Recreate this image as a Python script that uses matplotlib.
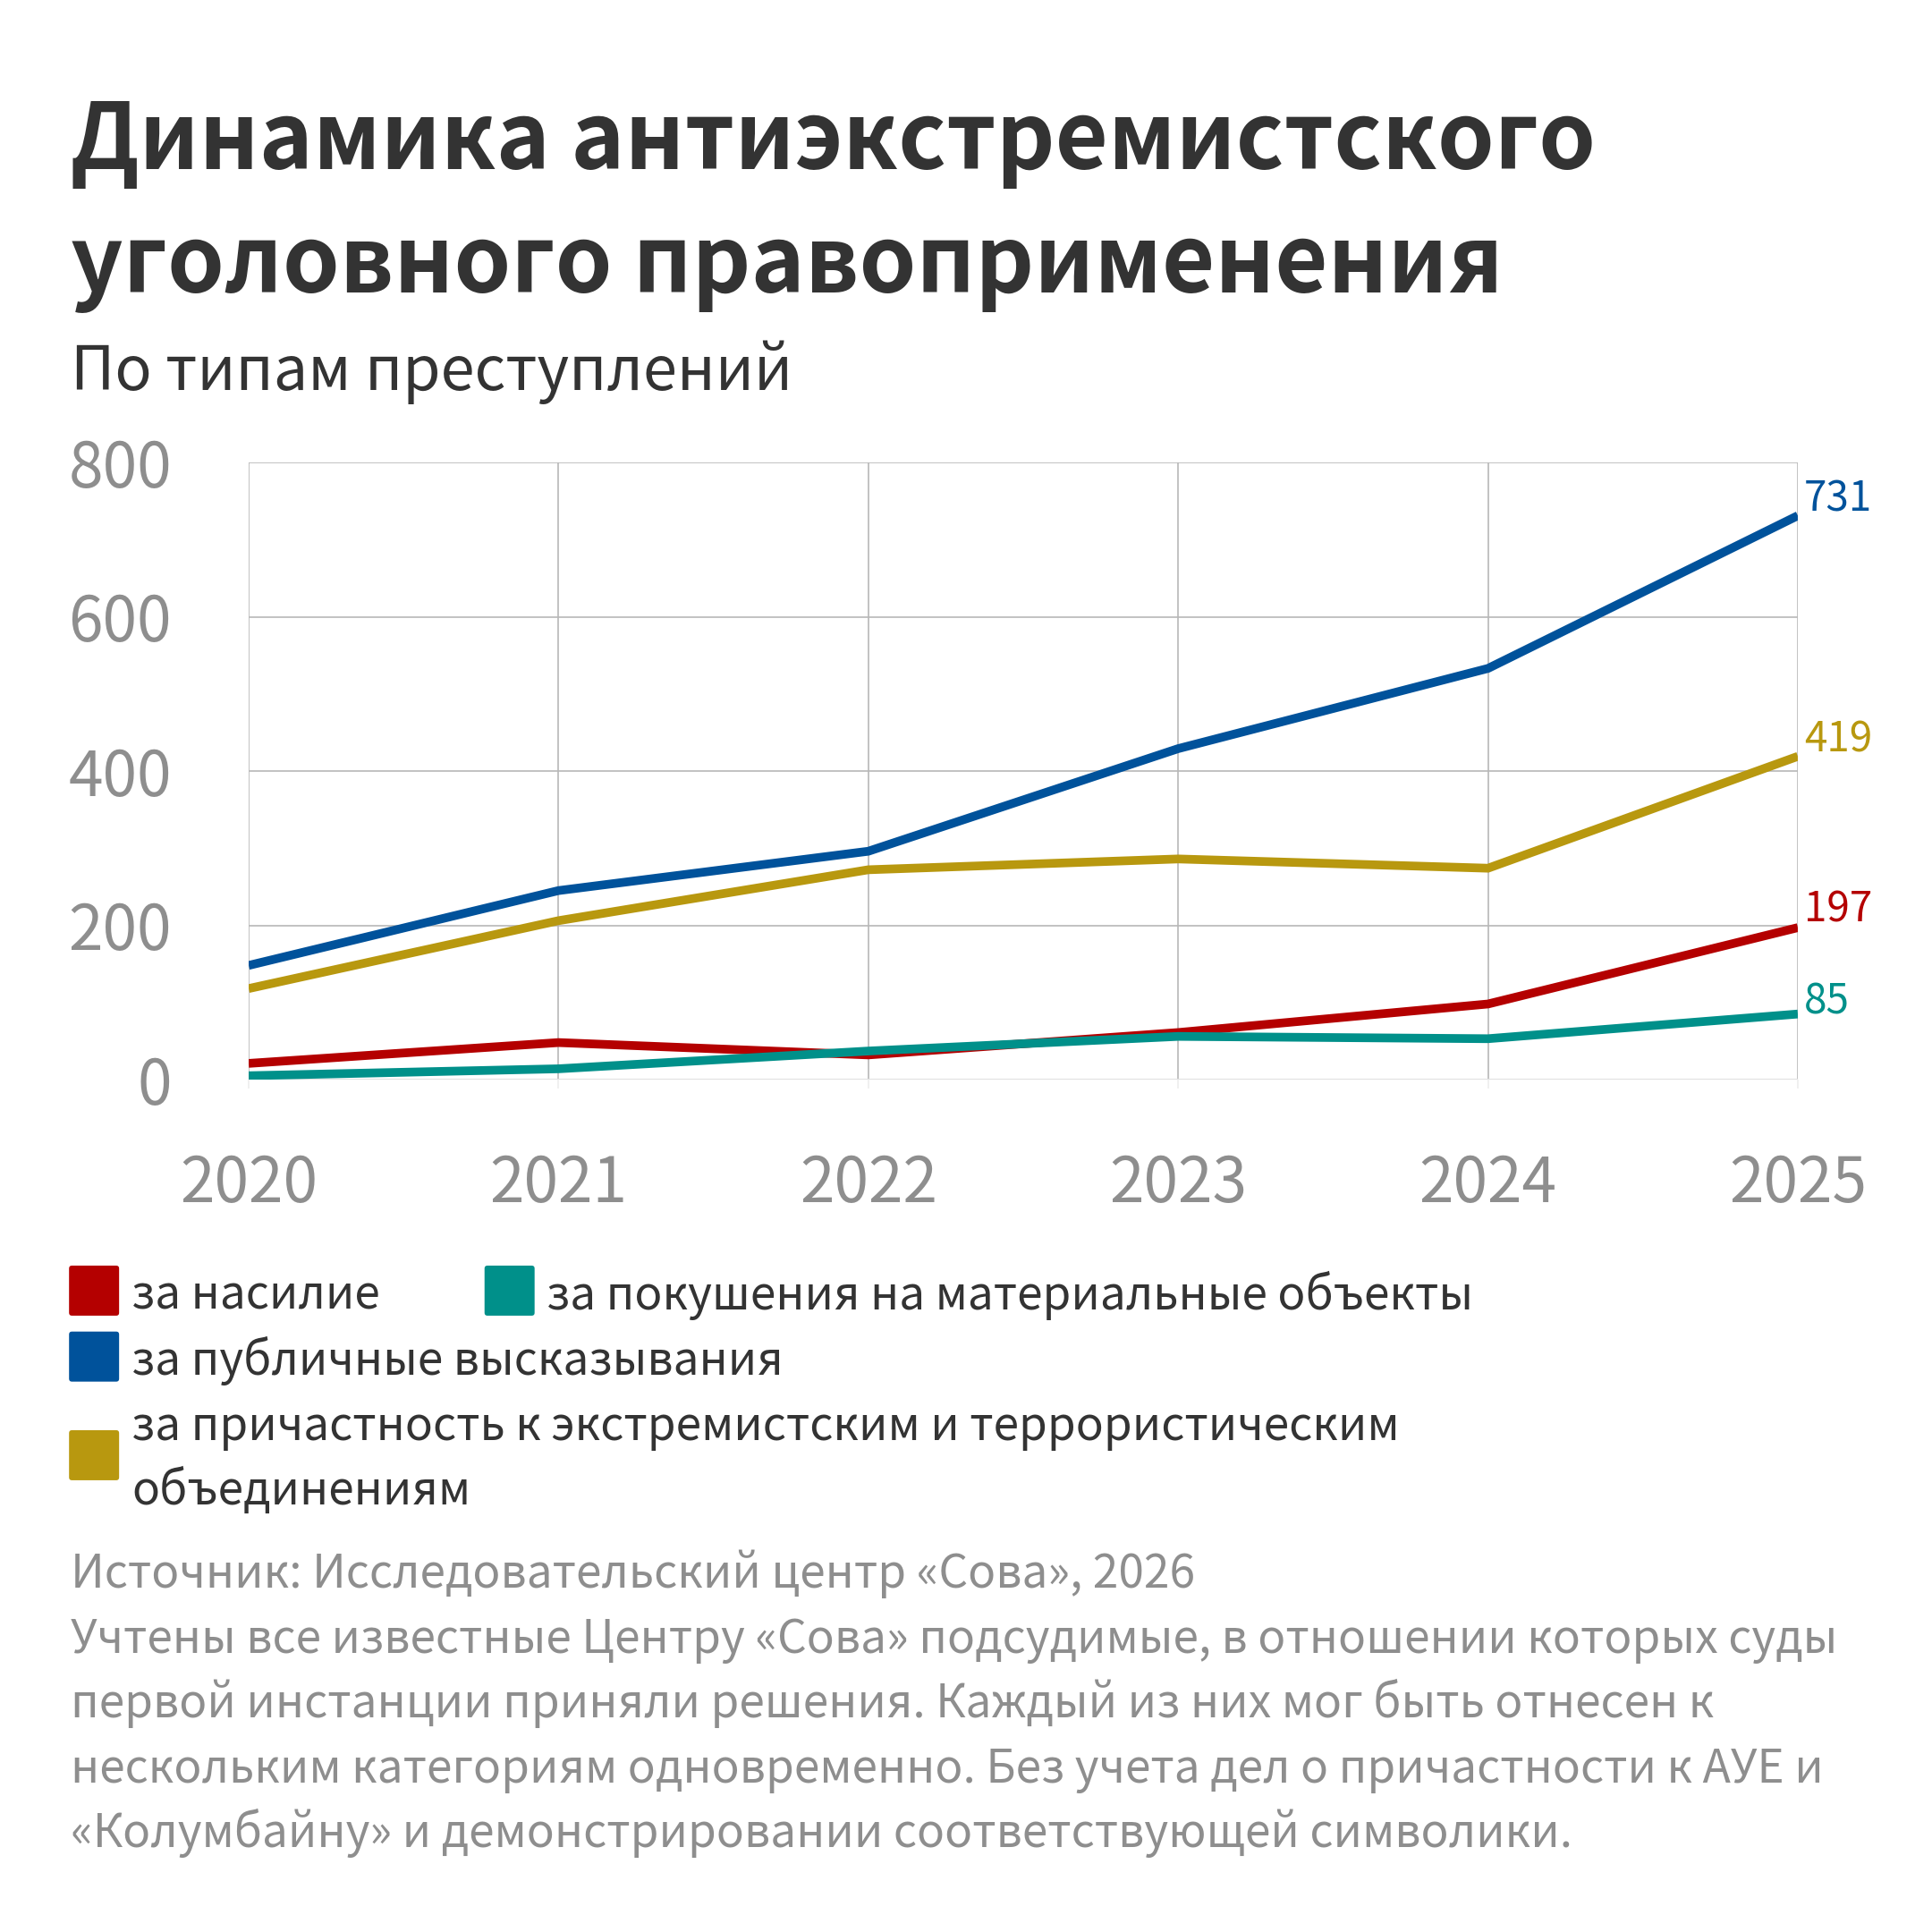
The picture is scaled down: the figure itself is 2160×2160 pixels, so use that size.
import matplotlib
matplotlib.use("Agg")
import matplotlib.pyplot as plt
from matplotlib.patches import FancyBboxPatch

plt.rcParams['font.family'] = ['Noto Sans CJK JP', 'DejaVu Sans']

years = [2020, 2021, 2022, 2023, 2024, 2025]
violence = [21, 48, 32, 61, 98, 197]
property_attacks = [5, 14, 37, 56, 53, 85]
public_speech = [148, 245, 296, 429, 533, 731]
organizations = [118, 206, 272, 286, 274, 419]

y_ticks = [0, 200, 400, 600, 800]

names = ["за насилие", "за покушения на материальные объекты",
         "за публичные высказывания",
         "за причастность к экстремистским и террористическим\nобъединениям"]

RED = "#b40000"
TEAL = "#00908a"
BLUE = "#00529b"
GOLD = "#b8980f"
TITLE = "#333333"
GRAY = "#8e8e8e"

fig = plt.figure(figsize=(21.6, 21.6), dpi=100)
fig.patch.set_facecolor("white")

S = 1567.0

def fy(ydisp):
    return 1 - ydisp / S

def fx(xdisp):
    return xdisp / S

# plot area in real pixels: left 278, right 2010, top 517, bottom 1207
ax = fig.add_axes([278 / 2160, 1 - 1207 / 2160, (2010 - 278) / 2160, (1207 - 517) / 2160])
ax.set_xlim(2020, 2025)
ax.set_ylim(0, 800)

for vals, col in [(violence, RED), (property_attacks, TEAL), (organizations, GOLD), (public_speech, BLUE)]:
    ax.plot(years, vals, color=col, lw=7, solid_capstyle='butt', solid_joinstyle='miter', zorder=3)

offsets = [13, 13, 14, 10]
for (vals, col), off in zip([(public_speech, BLUE), (organizations, GOLD), (violence, RED), (property_attacks, TEAL)], offsets):
    ax.annotate(str(vals[-1]), xy=(years[-1], vals[-1]), xytext=(5, off), textcoords='offset points',
                ha='left', va='center', color=col, fontsize=33, zorder=4, annotation_clip=False)

ax.set_xticks(years)
ax.set_xticklabels([str(y) for y in years])
ax.set_yticks(y_ticks)
ax.set_yticklabels([str(v) for v in y_ticks])
ax.grid(True, color="#b8b8b8", lw=1.2, zorder=1)
for s in ax.spines.values():
    s.set_visible(False)
ax.axhline(0, color="#e0e0e0", lw=2.2, zorder=2)
ax.tick_params(axis='y', length=0, pad=62, labelsize=50, labelcolor=GRAY)
ax.tick_params(axis='x', length=7, width=1.2, color="#eeeeee", pad=52, labelsize=50, labelcolor=GRAY)

# Title
fig.text(fx(57), fy(137), "Динамика антиэкстремистского", fontsize=73.5, fontweight='bold',
         color=TITLE, ha='left', va='baseline')
fig.text(fx(57), fy(237), "уголовного правоприменения", fontsize=73.5, fontweight='bold',
         color=TITLE, ha='left', va='baseline')
fig.text(fx(57), fy(316), "По типам преступлений", fontsize=49.3, color=TITLE, ha='left', va='baseline')

# Legend
def square(xd, yd, col):
    p = FancyBboxPatch((fx(xd), fy(yd + 40.6)), fx(40.6), fx(40.6),
                       boxstyle="round,pad=0,rounding_size=0.0015",
                       transform=fig.transFigure, facecolor=col, edgecolor='none')
    fig.patches.append(p)

square(56, 1026.5, RED)
square(393, 1026.5, TEAL)
square(56, 1080, BLUE)
square(56, 1160, GOLD)
LEG = 37
fig.text(fx(107), fy(1062), names[0], fontsize=LEG, color=TITLE, ha='left', va='baseline')
fig.text(fx(443), fy(1062), names[1], fontsize=LEG, color=TITLE, ha='left', va='baseline')
fig.text(fx(107), fy(1115), names[2], fontsize=LEG, color=TITLE, ha='left', va='baseline')
l4 = names[3].split("\n")
fig.text(fx(107), fy(1168), l4[0], fontsize=LEG, color=TITLE, ha='left', va='baseline')
fig.text(fx(107), fy(1220), l4[1], fontsize=LEG, color=TITLE, ha='left', va='baseline')

# Footer
footer = ["Источник: Исследовательский центр «Сова», 2026",
          "Учтены все известные Центру «Сова» подсудимые, в отношении которых суды",
          "первой инстанции приняли решения. Каждый из них мог быть отнесен к",
          "нескольким категориям одновременно. Без учета дел о причастности к АУЕ и",
          "«Колумбайну» и демонстрировании соответствующей символики."]
for i, line in enumerate(footer):
    fig.text(fx(57), fy(1288 + i * 52.5), line, fontsize=37, color=GRAY, ha='left', va='baseline')

fig.savefig("out.png", dpi=100, facecolor="white")
